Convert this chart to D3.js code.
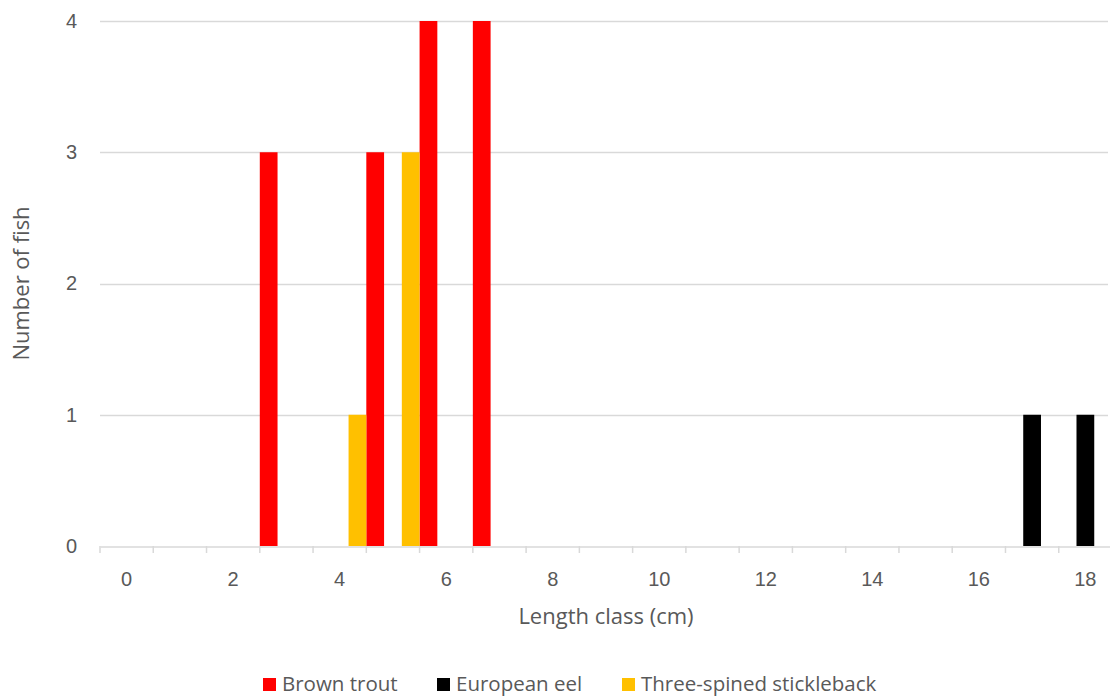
<!DOCTYPE html>
<html>
<head>
<meta charset="utf-8">
<script src="https://cdn.jsdelivr.net/npm/d3@7"></script>
<style>
  body { margin: 0; background: white; }
  svg { font-family: "Open Sans", "Noto Sans", sans-serif; }
</style>
</head>
<body>
<svg id="chart" width="1110" height="697"></svg>
<script>
// length classes 0..18 cm
var lengthClasses = d3.range(0, 19)
var seriesNames = ["Brown trout", "European eel", "Three-spined stickleback"]
var seriesColors = ["#ff0000", "#000000", "#ffc000"]
// counts per length class, index = length class
var brownTrout  = [0, 0, 0, 3, 0, 3, 4, 4, 0, 0, 0, 0, 0, 0, 0, 0, 0, 0, 0]
var europeanEel = [0, 0, 0, 0, 0, 0, 0, 0, 0, 0, 0, 0, 0, 0, 0, 0, 0, 1, 1]
var stickleback = [0, 0, 0, 0, 1, 3, 0, 0, 0, 0, 0, 0, 0, 0, 0, 0, 0, 0, 0]
var yTicks = [0, 1, 2, 3, 4]

var dimensions = {
    width: 1110,
    height: 697,
    margin: { top: 21, bottom: 151, left: 100, right: 0 }
}

var svg = d3.select("#chart")

var allSeries = [brownTrout, europeanEel, stickleback]

// the category axis runs slightly past the right edge of the picture
var x = d3.scaleBand()
    .domain(lengthClasses)
    .range([dimensions.margin.left, dimensions.width + 2])
    .paddingInner(0)
    .paddingOuter(0)

var xSub = d3.scaleBand()
    .domain(d3.range(seriesNames.length))
    .range([0, x.bandwidth()])

var y = d3.scaleLinear()
    .domain([0, 4])
    .range([dimensions.height - dimensions.margin.bottom, dimensions.margin.top])

// gridlines
svg.append("g")
    .selectAll("line")
    .data(yTicks.filter(d => d > 0))
    .enter()
    .append("line")
    .attr("x1", dimensions.margin.left)
    .attr("x2", dimensions.width - 2)
    .attr("y1", d => Math.round(y(d)) + 0.5)
    .attr("y2", d => Math.round(y(d)) + 0.5)
    .attr("stroke", "#d9d9d9")
    .attr("stroke-width", 1.3)

// bars
allSeries.forEach((values, s) => {
    svg.append("g")
        .selectAll("rect")
        .data(values.map((v, i) => ({ cls: lengthClasses[i], v: v })).filter(d => d.v > 0))
        .enter()
        .append("rect")
        .attr("x", d => x(d.cls) + xSub(s))
        .attr("width", xSub.bandwidth())
        .attr("y", d => y(d.v))
        .attr("height", d => y(0) - y(d.v))
        .attr("fill", seriesColors[s])
})

// x axis
var xAxis = svg.append("g")
    .attr("transform", `translate(0,${Math.round(y(0)) + 0.5})`)
    .call(d3.axisBottom(x)
        .tickSize(0)
        .tickFormat(d => d % 2 == 0 ? d : ""))
xAxis.select(".domain").attr("stroke", "#d9d9d9").attr("stroke-width", 1.5)
xAxis.selectAll("text")
    .attr("dy", 0)
    .attr("y", 39)
    .style("font-size", "20px")
    .style("fill", "#595959")

// x axis tick marks between categories
svg.append("g")
    .selectAll("line")
    .data(lengthClasses)
    .enter()
    .append("line")
    .attr("x1", d => x(d))
    .attr("x2", d => x(d))
    .attr("y1", y(0))
    .attr("y2", y(0) + 7)
    .attr("stroke", "#d9d9d9")
    .attr("stroke-width", 1.5)

// y axis labels
var yAxis = svg.append("g")
    .attr("transform", `translate(${dimensions.margin.left},0)`)
    .call(d3.axisLeft(y).tickValues(yTicks).tickSize(0).tickFormat(d3.format("d")))
yAxis.select(".domain").remove()
yAxis.selectAll("text")
    .attr("x", -23)
    .style("font-size", "20px")
    .style("fill", "#595959")

// axis titles
svg.append("text")
    .attr("x", 606)
    .attr("y", 624)
    .text("Length class (cm)")
    .style("fill", "#595959")
    .style("font-size", "22px")
    .style("text-anchor", "middle")

svg.append("text")
    .attr("transform", `translate(29,${(y(0) + y(4)) / 2}) rotate(-90)`)
    .text("Number of fish")
    .style("fill", "#595959")
    .style("font-size", "22px")
    .style("text-anchor", "middle")

// legend
var legendX = [263, 437, 622]
var legend = svg.append("g")
    .selectAll("g")
    .data(seriesNames)
    .enter()
    .append("g")
    .attr("transform", (d, i) => `translate(${legendX[i]},678)`)
legend.append("rect")
    .attr("width", 13)
    .attr("height", 13)
    .attr("fill", (d, i) => seriesColors[i])
legend.append("text")
    .attr("x", 19)
    .attr("y", 13)
    .text(d => d)
    .style("fill", "#595959")
    .style("font-size", "20.5px")
</script>
</body>
</html>
